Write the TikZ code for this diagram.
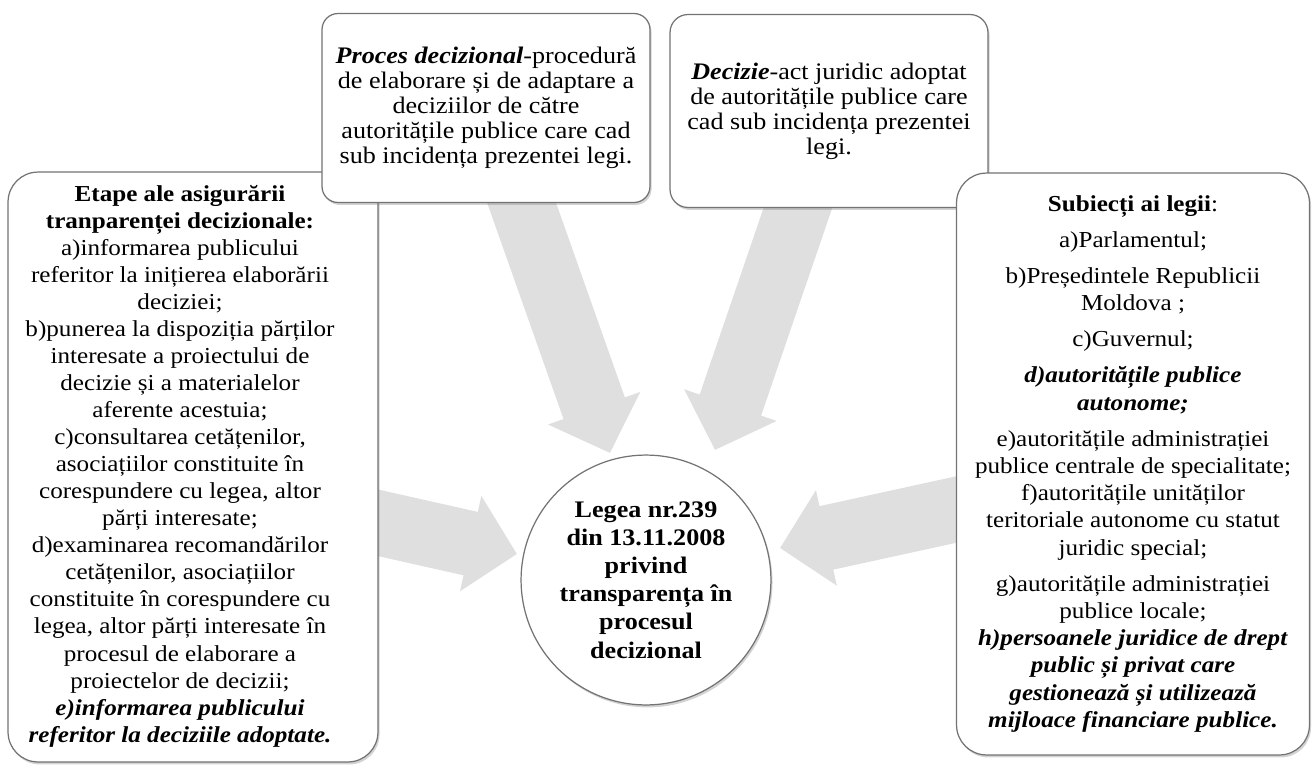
\documentclass[tikz,border=0pt]{standalone}
\usepackage{fontspec}
\setmainfont{Liberation Serif}[FakeStretch=1.1]
\usetikzlibrary{shadows,arrows.meta}

\definecolor{arrowgray}{RGB}{223,223,223}
\definecolor{edgegray}{RGB}{115,115,115}

\tikzset{
  panel/.style={draw=edgegray, line width=0.7pt, fill=white, align=center, inner sep=0pt,
    drop shadow={shadow xshift=0.9pt, shadow yshift=-1.4pt, opacity=0.35}},
  bigarrow/.style={arrowgray, line width=1.3cm, -{Triangle[width=1.9cm, length=0.95cm]}},
  txt/.style={align=center, font=\fontsize{13}{15.4}\selectfont}
}

\begin{document}
\begin{tikzpicture}[x=0.02cm, y=-0.02cm]
  \useasboundingbox (0,0) rectangle (1315,778);

  % arrow ends
  \coordinate (procesTail) at (504,153);
  \coordinate (procesTip) at (610,453);
  \coordinate (decizieTail) at (815,158);
  \coordinate (decizieTip) at (715,450);
  \coordinate (etapeTail) at (330,512);
  \coordinate (etapeTip) at (517,554);
  \coordinate (subiectiTail) at (1000,500);
  \coordinate (subiectiTip) at (780,548);

  \draw [bigarrow] (procesTail) -- (procesTip);
  \draw [bigarrow] (decizieTail) -- (decizieTip);
  \draw [bigarrow] (etapeTail) -- (etapeTip);
  \draw [bigarrow] (subiectiTail) -- (subiectiTip);

  % left panel
  \node (etape) [panel, rounded corners=0.6cm, minimum width=7.4cm, minimum height=11.8cm] at (193,467) {};
  \node (etapeText) [txt] at (180,466) {%
    \textbf{Etape ale asigurării}\\
    \textbf{tranparenței decizionale:}\\
    a)informarea publicului\\
    referitor la inițierea elaborării\\
    deciziei;\\
    b)punerea la dispoziția părților\\
    interesate a proiectului de\\
    decizie și a materialelor\\
    aferente acestuia;\\
    c)consultarea cetățenilor,\\
    asociațiilor constituite în\\
    corespundere cu legea, altor\\
    părți interesate;\\
    d)examinarea recomandărilor\\
    cetățenilor, asociațiilor\\
    constituite în corespundere cu\\
    legea, altor părți interesate în\\
    procesul de elaborare a\\
    proiectelor de decizii;\\
    \textbf{\textit{e)informarea publicului}}\\
    \textbf{\textit{referitor la deciziile adoptate.}}};

  % top panels
  \node (proces) [panel, font=\fontsize{13.5}{14.2}\selectfont, rounded corners=0.32cm, minimum width=6.56cm, minimum height=3.78cm] at (486,108) {%
    \textbf{\textit{Proces decizional}}-procedură\\
    de elaborare și de adaptare a\\
    deciziilor de către\\
    autoritățile publice care cad\\
    sub incidența prezentei legi.};
  \node (decizie) [panel, font=\fontsize{13.5}{14.2}\selectfont, rounded corners=0.36cm, minimum width=6.36cm, minimum height=3.86cm] at (829,111) {%
    \textbf{\textit{Decizie}}-act juridic adoptat\\
    de autoritățile publice care\\
    cad sub incidența prezentei\\
    legi.};

  % right panel
  \node (subiecti) [panel, font=\fontsize{13}{15.5}\selectfont, rounded corners=0.6cm, minimum width=7.06cm, minimum height=11.64cm] at (1133,464) {%
    \textbf{Subiecți ai legii}:\\[5pt]
    a)Parlamentul;\\[5pt]
    b)Președintele Republicii\\
    Moldova ;\\[5pt]
    c)Guvernul;\\[5pt]
    \textbf{\textit{d)autoritățile publice}}\\
    \textbf{\textit{autonome;}}\\[5pt]
    e)autoritățile administrației\\
    publice centrale de specialitate;\\
    f)autoritățile unităților\\
    teritoriale autonome cu statut\\
    juridic special;\\[5pt]
    g)autoritățile administrației\\
    publice locale;\\
    \textbf{\textit{h)persoanele juridice de drept}}\\
    \textbf{\textit{public și privat care}}\\
    \textbf{\textit{gestionează și utilizează}}\\
    \textbf{\textit{mijloace financiare publice.}}};

  % centre
  \node (lege) [circle, draw=edgegray, line width=0.7pt, fill=white, align=center, minimum size=4.68cm,
    font=\bfseries\fontsize{13.5}{16}\selectfont,
    drop shadow={shadow xshift=0.9pt, shadow yshift=-1.4pt, opacity=0.35}] at (646,580) {%
    Legea nr.239\\din 13.11.2008\\privind\\transparența în\\procesul\\decizional};
\end{tikzpicture}
\end{document}
